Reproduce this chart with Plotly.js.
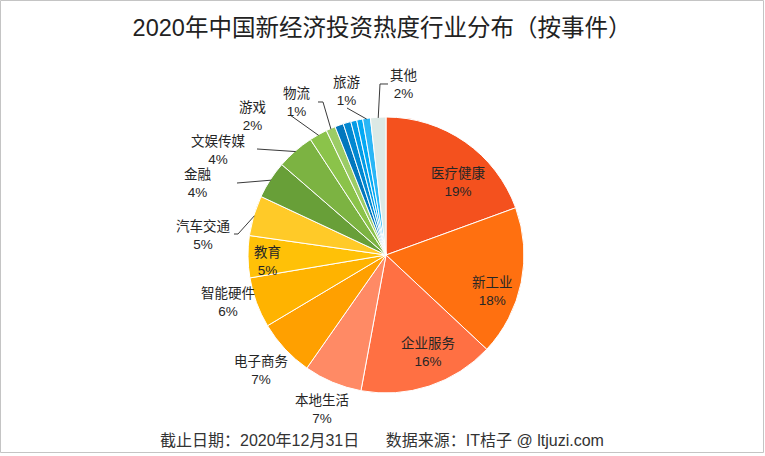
<!DOCTYPE html>
<html>
<head>
<meta charset="utf-8">
<script src="https://cdn.plot.ly/plotly-3.0.1.min.js"></script>
<style>html,body{margin:0;padding:0;background:#fff;}#chart{width:765px;height:456px;}</style>
</head>
<body>
<div id="chart"></div>
<script>
// ---- data ----
const categories = ['医疗健康','新工业','企业服务','本地生活','电子商务','智能硬件','教育','汽车交通','金融','文娱传媒','游戏','物流','未标注A','未标注B','未标注C','未标注D','旅游','其他'];
const shares = [19.4,17.5,15.9,6.8,6.7,5.9,4.9,4.7,4.4,4.4,2.1,1.1,1.0,0.9,0.7,0.7,0.9,1.8];
const labelled = [true,true,true,true,true,true,true,true,true,true,true,true,false,false,false,false,true,true];
const titleText = '2020年中国新经济投资热度行业分布（按事件）';
const footText = '截止日期：2020年12月31日\u00a0\u00a0\u00a0\u00a0\u00a0\u00a0数据来源：IT桔子 @ ltjuzi.com';

// ---- styles ----
const colors = ['#F4511E','#FF7010','#FF7043','#FF8A65','#FFA000','#FFB300','#FFC107','#FFCA28','#689F38','#7CB342','#8BC34A','#9CCC65','#0277BD','#0288D1','#039BE5','#03A9F4','#29B6F6','#DCE9E5'];
const W = 765, H = 456;
const CX = 386, CY = 255, R = 138;
// label block centres (px) and optional leader start/elbow points (px)
const labelLayout = {
  '医疗健康': {c:[458,182]},
  '新工业':   {c:[492,291]},
  '企业服务': {c:[428,352]},
  '本地生活': {c:[322,409]},
  '电子商务': {c:[261,370]},
  '智能硬件': {c:[228,302]},
  '教育':     {c:[267,261]},
  '汽车交通': {c:[203,235], line:[[234,234],[238,234]]},
  '金融':     {c:[198,184], line:[[237,183]]},
  '文娱传媒': {c:[218,150], line:[[257,149]]},
  '游戏':     {c:[252,116], line:[[290,115]]},
  '物流':     {c:[297,102], line:[[318,102],[323,102]]},
  '旅游':     {c:[346,91],  line:[[347,108]]},
  '其他':     {c:[403,84],  line:[[388,84],[380,84]]}
};

const px = x => x / W;
const py = y => 1 - y / H;

const total = shares.reduce((a,b)=>a+b,0);
const annotations = [];
const shapes = [];
let cum = 0;
shares.forEach((v,i) => {
  const mid = (cum + v/2) / total * 2 * Math.PI;
  cum += v;
  if (!labelled[i]) return;
  const name = categories[i];
  const lay = labelLayout[name];
  const pct = Math.round(v / total * 100);
  annotations.push({
    xref:'paper', yref:'paper', x:px(lay.c[0]), y:py(lay.c[1]),
    xanchor:'center', yanchor:'middle', showarrow:false,
    text: name + '<br>' + pct + '%',
    font:{family:'Liberation Sans, Arial, Noto Sans CJK SC, sans-serif', size:13.5, color:'#262626'}
  });
  if (lay.line) {
    const tip = [CX + R*0.995*Math.sin(mid), CY - R*0.995*Math.cos(mid)];
    const pts = lay.line.concat([tip]);
    const path = pts.map((p,k)=> (k?'L':'M') + px(p[0]).toFixed(5) + ',' + py(p[1]).toFixed(5)).join(' ');
    shapes.push({type:'path', xref:'paper', yref:'paper', path:path, line:{color:'#3a3a3a', width:1}});
  }
});

annotations.push({
  xref:'paper', yref:'paper', x:px(382), y:py(440), xanchor:'center', yanchor:'middle', showarrow:false,
  text: footText,
  font:{family:'Liberation Sans, Arial, Noto Sans CJK SC, sans-serif', size:16, color:'#333333'}
});

shapes.push({type:'rect', xref:'paper', yref:'paper', x0:px(0.5), x1:px(763.5), y0:py(452.5), y1:py(0.5),
  line:{color:'#c4c4c4', width:1}});

const trace = {
  type:'pie',
  labels: categories,
  values: shares,
  sort:false,
  direction:'clockwise',
  rotation:0,
  textinfo:'none',
  hoverinfo:'label+percent',
  marker:{colors:colors, line:{color:'#ffffff', width:1}},
  domain:{x:[px(CX-R), px(CX+R)], y:[py(CY+R), py(CY-R)]},
  showlegend:false
};

const layout = {
  width:W, height:H, autosize:false,
  margin:{l:0,r:0,t:0,b:0},
  paper_bgcolor:'#ffffff',
  title:{text:titleText, x:px(382), xanchor:'center', y:py(28), yanchor:'middle',
    font:{family:'Liberation Sans, Arial, Noto Sans CJK SC, sans-serif', size:23.5, color:'#222222'}},
  annotations:annotations,
  shapes:shapes,
  showlegend:false
};

Plotly.newPlot('chart', [trace], layout, {displayModeBar:false, staticPlot:true});
</script>
</body>
</html>
